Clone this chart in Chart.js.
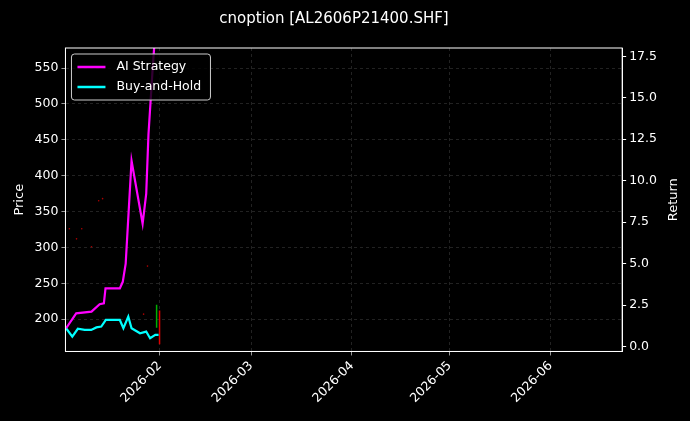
<!DOCTYPE html>
<html><head><meta charset="utf-8">
<script src="https://cdn.jsdelivr.net/npm/chart.js@4"></script>
<style>html,body{margin:0;background:#000}#wrap{width:690px;height:421px}</style>
</head><body><div id="wrap"><canvas id="c"></canvas></div>
<script>
'use strict';
// x values are day-of-year 2026 (Jan 1 = 1)
const tickDays = [32, 60, 91, 121, 152];
const tickLabels = ['2026-02', '2026-03', '2026-04', '2026-05', '2026-06'];

const aiDays = [3.2, 6.3, 11, 13.5, 14.8, 15.3, 19.7, 20.6, 21.5, 23.3, 26.7, 27.8, 28.5, 29.8, 30.6];
const aiReturn = [1.1, 2.0, 2.1, 2.55, 2.6, 3.5, 3.5, 3.9, 5.0, 11.2, 7.4, 9.2, 12.8, 16.8, 19.0];

const bhDays = [3.2, 5.1, 6.8, 8.9, 10.9, 12.5, 14, 15.4, 19.7, 20.8, 22.3, 23.3, 25.9, 27.8, 29, 30.6, 31.6];
const bhReturn = [1.1, 0.6, 1.07, 1.0, 1.0, 1.15, 1.2, 1.6, 1.6, 1.1, 1.8, 1.1, 0.8, 0.9, 0.5, 0.7, 0.7];

// price candles: day, low, high, up?
const candleDays = [31.0, 31.9];
const candleLow = [188, 165];
const candleHigh = [220, 212];
const candleUp = [true, false];

// small doji-like price marks
const dotDays = [4.2, 6.4, 8.0, 11.0, 13.2, 14.4, 27.0, 28.2];
const dotPrice = [326, 312, 326, 301, 365, 368, 207, 274];

const datasets = [
  {label: 'AI Strategy', data: aiDays.map((d, i) => ({x: d, y: aiReturn[i]})), yAxisID: 'y1',
   borderColor: '#ff00ff', borderWidth: 2.2, pointRadius: 0, showLine: true, tension: 0},
  {label: 'Buy-and-Hold', data: bhDays.map((d, i) => ({x: d, y: bhReturn[i]})), yAxisID: 'y1',
   borderColor: '#00ffff', borderWidth: 2.2, pointRadius: 0, showLine: true, tension: 0},
  {label: 'dots', data: dotDays.map((d, i) => ({x: d, y: dotPrice[i]})), yAxisID: 'y',
   pointRadius: 0.8, pointBackgroundColor: '#b00000', pointBorderWidth: 0, showLine: false}
];
candleDays.forEach((d, i) => {
  datasets.push({label: 'candle', yAxisID: 'y', showLine: true, pointRadius: 0, borderWidth: 1.5,
    borderColor: candleUp[i] ? '#00b000' : '#e00000',
    data: [{x: d, y: candleLow[i]}, {x: d, y: candleHigh[i]}]});
});

const frame = {
  id: 'frame',
  afterDraw(chart) {
    const {ctx, chartArea: a} = chart;
    ctx.save();
    ctx.strokeStyle = '#fff'; ctx.lineWidth = 1;
    ctx.strokeRect(a.left, a.top, a.right - a.left, a.bottom - a.top);
    // right axis title, reading bottom to top
    ctx.fillStyle = '#fff'; ctx.font = '13px "DejaVu Sans"';
    ctx.textAlign = 'center'; ctx.textBaseline = 'middle';
    ctx.translate(674, (a.top + a.bottom) / 2); ctx.rotate(-Math.PI / 2);
    ctx.fillText('Return', 0, 0);
    ctx.setTransform(1, 0, 0, 1, 0, 0);
    ctx.scale(chart.currentDevicePixelRatio, chart.currentDevicePixelRatio);
    // legend box
    const x = a.left + 6, y = a.top + 6;
    ctx.fillStyle = 'rgba(0,0,0,0.8)';
    ctx.strokeStyle = '#ccc';
    ctx.beginPath(); ctx.roundRect(x, y, 139, 46, 3); ctx.fill(); ctx.stroke();
    ctx.font = '12.5px "DejaVu Sans"'; ctx.textAlign = 'left';
    [['AI Strategy', '#ff00ff'], ['Buy-and-Hold', '#00ffff']].forEach((it, i) => {
      const yy = y + 13 + i * 20;
      ctx.strokeStyle = it[1]; ctx.lineWidth = 2.5;
      ctx.beginPath(); ctx.moveTo(x + 6, yy); ctx.lineTo(x + 34, yy); ctx.stroke();
      ctx.fillStyle = '#fff'; ctx.fillText(it[0], x + 45, yy);
    });
    ctx.restore();
  }
};

const gridStyle = {color: 'rgba(128,128,128,0.45)', lineWidth: 0.6, tickColor: '#fff', tickLength: 4};
const tickFont = {family: 'DejaVu Sans', size: 12.5};

new Chart(document.getElementById('c'), {
  type: 'scatter',
  data: {datasets},
  plugins: [frame],
  options: {
    responsive: true, maintainAspectRatio: false, animation: false,
    layout: {padding: {left: 8, right: 30, top: 0, bottom: 12}},
    plugins: {
      legend: {display: false}, tooltip: {enabled: false},
      title: {display: true, text: 'cnoption [AL2606P21400.SHF]', color: '#fff',
        font: {family: 'DejaVu Sans', size: 15, weight: 'normal'}, padding: {top: 10, bottom: 20}}
    },
    scales: {
      x: {type: 'linear', min: 3, max: 174,
        afterBuildTicks: s => { s.ticks = tickDays.map(v => ({value: v})); },
        ticks: {color: '#fff', font: tickFont, minRotation: 45, maxRotation: 45,
          callback: v => tickLabels[tickDays.indexOf(v)] ?? ''},
        grid: {...gridStyle}, border: {color: '#fff', dash: [3, 3]}},
      y: {position: 'left', min: 155, max: 578,
        afterBuildTicks: s => { s.ticks = [200, 250, 300, 350, 400, 450, 500, 550].map(v => ({value: v})); },
        title: {display: true, text: 'Price', color: '#fff', font: {family: 'DejaVu Sans', size: 13}},
        ticks: {color: '#fff', font: tickFont},
        grid: {...gridStyle}, border: {color: '#fff', dash: [3, 3]}},
      y1: {position: 'right', min: -0.3, max: 18.0,
        afterBuildTicks: s => { s.ticks = [0, 2.5, 5, 7.5, 10, 12.5, 15, 17.5].map(v => ({value: v})); },
        ticks: {color: '#fff', font: tickFont, callback: v => v.toFixed(1)},
        grid: {drawOnChartArea: false, tickColor: '#fff', tickLength: 4}, border: {color: '#fff'}}
    }
  }
});
</script></body></html>
